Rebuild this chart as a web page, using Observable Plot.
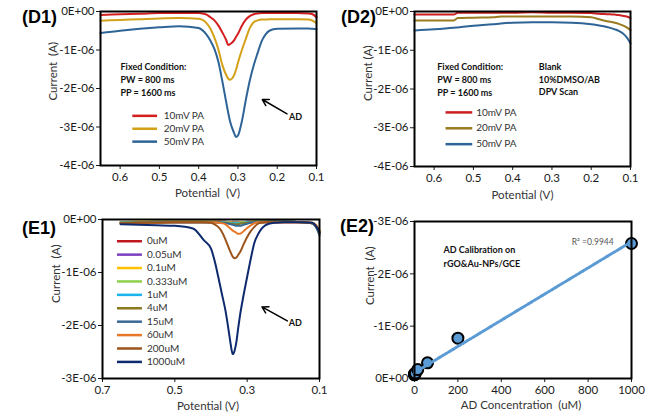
<!DOCTYPE html>
<html><head><meta charset="utf-8">
<script src="https://cdn.jsdelivr.net/npm/d3@7"></script>
<script src="https://cdn.jsdelivr.net/npm/@observablehq/plot@0.6"></script>
<style>
body{margin:0;background:#fff;}
#wrap{position:relative;width:654px;height:414px;overflow:hidden;background:#fff;}
.panel{position:absolute;width:327px;height:207px;}
.panel g[aria-label^="x-axis"], .panel g[aria-label^="y-axis"]{font-size:11.5px;}
.panel g[aria-label="linear-regression"] path{stroke-dasharray:2 2;}
.tag{position:absolute;font-family:"Liberation Sans",Arial,sans-serif;font-weight:bold;font-size:18px;line-height:1;color:#000;}
</style></head><body><div id="wrap"></div>
<script>
// ---------- D1 : DPV at different pulse amplitudes (current in units of 1E-06 A) ----------
const d1Potential = [0.65,0.6,0.55,0.5,0.45,0.4,0.39,0.38,0.37,0.36,0.35,0.34,0.33,0.325,0.32,0.31,0.305,0.3,0.29,0.28,0.27,0.26,0.25,0.24,0.23,0.22,0.2,0.15,0.12,0.11,0.1];
const d1_10mV = [-0.09,-0.07,-0.06,-0.04,-0.04,-0.04,-0.05,-0.08,-0.15,-0.23,-0.36,-0.54,-0.74,-0.87,-0.85,-0.75,-0.66,-0.58,-0.37,-0.21,-0.12,-0.07,-0.05,-0.04,-0.04,-0.04,-0.04,-0.04,-0.05,-0.07,-0.15];
const d1_20mV = [-0.24,-0.22,-0.2,-0.18,-0.17,-0.19,-0.22,-0.3,-0.45,-0.68,-0.98,-1.38,-1.65,-1.74,-1.77,-1.66,-1.52,-1.33,-1.0,-0.71,-0.43,-0.28,-0.23,-0.21,-0.21,-0.2,-0.2,-0.2,-0.21,-0.24,-0.3];
const d1_50mV = [-0.56,-0.5,-0.45,-0.41,-0.38,-0.43,-0.49,-0.6,-0.76,-0.97,-1.3,-1.8,-2.35,-2.62,-2.86,-3.15,-3.26,-3.22,-2.85,-2.3,-1.8,-1.4,-1.08,-0.78,-0.6,-0.5,-0.45,-0.44,-0.44,-0.45,-0.46];
const d1Labels = ["10mV PA","20mV PA","50mV PA"];
const d1Colors = ["#d41f1f","#d4a017","#2f6496"];

// ---------- D2 : blank ----------
const d2Potential = [0.65,0.6,0.55,0.54,0.5,0.45,0.43,0.4,0.35,0.3,0.25,0.2,0.18,0.16,0.14,0.13,0.12,0.11,0.1];
const d2_10mV = [-0.08,-0.08,-0.08,-0.035,-0.035,-0.035,-0.03,-0.03,-0.02,-0.03,-0.03,-0.04,-0.06,-0.07,-0.08,-0.09,-0.11,-0.13,-0.17];
const d2_20mV = [-0.23,-0.23,-0.23,-0.17,-0.16,-0.15,-0.13,-0.13,-0.13,-0.13,-0.13,-0.15,-0.2,-0.25,-0.29,-0.32,-0.36,-0.41,-0.48];
const d2_50mV = [-0.49,-0.46,-0.42,-0.41,-0.37,-0.33,-0.31,-0.29,-0.28,-0.28,-0.29,-0.33,-0.36,-0.4,-0.46,-0.5,-0.56,-0.66,-0.82];
const d2Labels = ["10mV PA","20mV PA","50mV PA"];
const d2Colors = ["#cc1f1f","#9a7b1f","#2f6496"];

// ---------- E1 : DPV at AD concentrations ----------
const e1Potential = [0.65,0.6,0.55,0.5,0.45,0.42,0.4,0.39,0.38,0.37,0.36,0.35,0.345,0.34,0.335,0.33,0.325,0.32,0.31,0.3,0.29,0.28,0.27,0.26,0.25,0.24,0.22,0.2,0.15,0.12,0.11,0.1];
const e1_0uM    = [-0.06,-0.05,-0.05,-0.05,-0.05,-0.05,-0.05,-0.05,-0.05,-0.05,-0.05,-0.05,-0.05,-0.05,-0.05,-0.05,-0.05,-0.05,-0.05,-0.05,-0.05,-0.05,-0.05,-0.05,-0.05,-0.05,-0.05,-0.05,-0.05,-0.07,-0.12,-0.24];
const e1_005uM  = [-0.05,-0.05,-0.04,-0.04,-0.04,-0.04,-0.04,-0.04,-0.04,-0.04,-0.04,-0.05,-0.05,-0.05,-0.05,-0.05,-0.05,-0.05,-0.05,-0.04,-0.04,-0.04,-0.04,-0.04,-0.04,-0.04,-0.04,-0.04,-0.05,-0.07,-0.13,-0.26];
const e1_01uM   = [-0.05,-0.04,-0.04,-0.04,-0.04,-0.04,-0.04,-0.04,-0.04,-0.04,-0.05,-0.05,-0.05,-0.06,-0.06,-0.06,-0.06,-0.05,-0.05,-0.05,-0.04,-0.04,-0.04,-0.04,-0.04,-0.04,-0.04,-0.04,-0.05,-0.07,-0.12,-0.22];
const e1_0333uM = [-0.05,-0.05,-0.04,-0.04,-0.04,-0.04,-0.04,-0.04,-0.05,-0.05,-0.05,-0.06,-0.06,-0.06,-0.06,-0.06,-0.06,-0.06,-0.05,-0.05,-0.05,-0.04,-0.04,-0.04,-0.04,-0.04,-0.04,-0.04,-0.05,-0.07,-0.12,-0.23];
const e1_1uM    = [-0.06,-0.05,-0.05,-0.05,-0.05,-0.05,-0.05,-0.05,-0.05,-0.05,-0.06,-0.06,-0.07,-0.07,-0.07,-0.07,-0.07,-0.07,-0.06,-0.05,-0.05,-0.05,-0.04,-0.04,-0.04,-0.04,-0.04,-0.04,-0.05,-0.07,-0.13,-0.25];
const e1_4uM    = [-0.06,-0.05,-0.05,-0.05,-0.05,-0.05,-0.05,-0.05,-0.05,-0.06,-0.06,-0.07,-0.08,-0.08,-0.09,-0.09,-0.09,-0.08,-0.07,-0.06,-0.05,-0.05,-0.05,-0.04,-0.04,-0.04,-0.04,-0.04,-0.05,-0.07,-0.13,-0.27];
const e1_15uM   = [-0.06,-0.06,-0.05,-0.05,-0.05,-0.05,-0.05,-0.05,-0.05,-0.06,-0.07,-0.08,-0.09,-0.1,-0.11,-0.12,-0.12,-0.12,-0.1,-0.08,-0.06,-0.05,-0.05,-0.05,-0.05,-0.04,-0.04,-0.04,-0.05,-0.07,-0.14,-0.3];
const e1_60uM   = [-0.07,-0.06,-0.06,-0.05,-0.05,-0.05,-0.05,-0.05,-0.06,-0.07,-0.09,-0.15,-0.18,-0.21,-0.23,-0.25,-0.27,-0.27,-0.22,-0.16,-0.11,-0.07,-0.05,-0.05,-0.05,-0.05,-0.05,-0.05,-0.05,-0.06,-0.1,-0.2];
const e1_200uM  = [-0.07,-0.06,-0.06,-0.05,-0.05,-0.05,-0.06,-0.09,-0.14,-0.23,-0.38,-0.55,-0.63,-0.7,-0.73,-0.72,-0.67,-0.62,-0.47,-0.33,-0.22,-0.14,-0.08,-0.06,-0.05,-0.05,-0.05,-0.05,-0.05,-0.06,-0.12,-0.24];
const e1_1000uM = [-0.09,-0.1,-0.11,-0.12,-0.17,-0.39,-0.55,-0.78,-1.08,-1.4,-1.72,-2.15,-2.38,-2.54,-2.48,-2.32,-2.06,-1.82,-1.43,-1.08,-0.74,-0.44,-0.28,-0.17,-0.11,-0.08,-0.06,-0.05,-0.05,-0.06,-0.12,-0.24];
const e1Series = [e1_0uM,e1_005uM,e1_01uM,e1_0333uM,e1_1uM,e1_4uM,e1_15uM,e1_60uM,e1_200uM,e1_1000uM];
const e1Labels = ["0uM","0.05uM","0.1uM","0.333uM","1uM","4uM","15uM","60uM","200uM","1000uM"];
const e1Colors = ["#c0161d","#7b3fbf","#ffc000","#8fcf4a","#19b4ee","#8a7a20","#3a6894","#e8772a","#9b541c","#0e2a6e"];

// ---------- E2 : calibration ----------
const e2Conc    = [0, 0.05, 0.1, 0.333, 1, 4, 15, 60, 200, 1000];
const e2Current = [-0.07, -0.08, -0.08, -0.09, -0.09, -0.1, -0.17, -0.3, -0.77, -2.58];

// ---------- ticks ----------
const dXTicks = [0.6,0.5,0.4,0.3,0.2,0.1];
const dYTicks = [0,-1,-2,-3,-4];
const e1XTicks = [0.7,0.5,0.3,0.1];
const e1YTicks = [0,-1,-2,-3];
const e2XTicks = [0,200,400,600,800,1000];
const e2YTicks = [0,-1,-2,-3];

const yFmt = d => d === 0 ? "0E+00" : `${d}E-06`;
const rows = (xs, ys) => xs.map((x, i) => ({x, y: ys[i]}));
const baseStyle = {fontFamily: "Lato, sans-serif", fontSize: "11.5px", color: "#1a1a1a", background: "transparent", overflow: "visible"};
const txt = (o) => Object.assign({fontFamily: "Lato, sans-serif", fill: "#111", lineAnchor: "middle"}, o);

function legend(labels, colors, x1, x2, xl, y0, step) {
  const data = labels.map((l, i) => ({l, c: colors[i], y: y0 - i * step}));
  return [
    Plot.link(data, {x1: () => x1, x2: () => x2, y1: "y", y2: "y", stroke: d => d.c, strokeWidth: 2.5}),
    Plot.text(data, txt({x: () => xl, y: "y", text: "l", textAnchor: "start", fontSize: 10, fill: "#333"}))
  ];
}

const wrap = document.getElementById("wrap");
function place(node, left, top) {
  const d = document.createElement("div");
  d.className = "panel"; d.style.left = left + "px"; d.style.top = top + "px";
  d.appendChild(node); wrap.appendChild(d);
}
function tag(t, left, top) {
  const d = document.createElement("div");
  d.className = "tag"; d.textContent = t; d.style.left = left + "px"; d.style.top = top + "px";
  wrap.appendChild(d);
}

// ---------- D1 ----------
const d1 = Plot.plot({
  width: 327, height: 207, marginLeft: 100, marginRight: 11, marginTop: 11, marginBottom: 42,
  style: baseStyle,
  x: {domain: [0.65, 0.1], ticks: dXTicks, tickFormat: d3.format(".1f"), tickSize: 4, tickPadding: 3, label: null},
  y: {domain: [-4, 0], ticks: dYTicks, tickFormat: yFmt, tickSize: 4, tickPadding: 2, label: null},
  marks: [
    ...[d1_10mV, d1_20mV, d1_50mV].map((s, i) => Plot.line(rows(d1Potential, s), {x: "x", y: "y", stroke: d1Colors[i], strokeWidth: 2, curve: "monotone-x"})),
    Plot.text(["Fixed Condition:", "PW = 800 ms", "PP = 1600 ms"], txt({x: 0.599, y: (d, i) => -1.455 - i * 0.335, textAnchor: "start", fontWeight: "bold", fontSize: 9})),
    ...legend(d1Labels, d1Colors, 0.569, 0.506, 0.489, -2.71, 0.335),
    Plot.text(["AD"], txt({x: 0.170, y: -2.745, textAnchor: "start", fontWeight: "bold", fontSize: 9})),
    Plot.arrow([{a: 0.175, b: -2.657, c: 0.238, d: -2.286}], {x1: "a", y1: "b", x2: "c", y2: "d", stroke: "black", strokeWidth: 1.5, headLength: 7}),
    Plot.text(["Current  (A)"], txt({frameAnchor: "left", dx: -47, dy: 12, rotate: -90, fontSize: 11.5, fill: "#333"})),
    Plot.text(["Potential  (V)"], txt({frameAnchor: "bottom", dx: -1, dy: 28, fontSize: 11.5, fill: "#333"})),
    Plot.frame({stroke: "black", strokeWidth: 2})
  ]
});
place(d1, 0, 0);

// ---------- D2 ----------
const d2 = Plot.plot({
  width: 327, height: 207, marginLeft: 87, marginRight: 24, marginTop: 11, marginBottom: 41,
  style: baseStyle,
  x: {domain: [0.65, 0.1], ticks: dXTicks, tickFormat: d3.format(".1f"), tickSize: 4, tickPadding: 3, label: null},
  y: {domain: [-4, 0], ticks: dYTicks, tickFormat: yFmt, tickSize: 4, tickPadding: 2, label: null},
  marks: [
    ...[d2_10mV, d2_20mV, d2_50mV].map((s, i) => Plot.line(rows(d2Potential, s), {x: "x", y: "y", stroke: d2Colors[i], strokeWidth: 2, curve: "monotone-x"})),
    Plot.text(["Fixed Condition:", "PW = 800 ms", "PP = 1600 ms"], txt({x: 0.592, y: (d, i) => -1.44 - i * 0.335, textAnchor: "start", fontWeight: "bold", fontSize: 9})),
    Plot.text(["Blank", "10%DMSO/AB", "DPV Scan"], txt({x: 0.3335, y: (d, i) => -1.44 - i * 0.325, textAnchor: "start", fontWeight: "bold", fontSize: 9})),
    ...legend(d2Labels, d2Colors, 0.571, 0.503, 0.493, -2.604, 0.41),
    Plot.text(["Current (A)"], txt({frameAnchor: "left", dx: -46, dy: 12, rotate: -90, fontSize: 11.5, fill: "#333"})),
    Plot.text(["Potential (V)"], txt({frameAnchor: "bottom", dx: 0, dy: 29, fontSize: 11.5, fill: "#333"})),
    Plot.frame({stroke: "black", strokeWidth: 2})
  ]
});
place(d2, 327, 0);

// ---------- E1 ----------
const e1 = Plot.plot({
  width: 327, height: 207, marginLeft: 102, marginRight: 8, marginTop: 12, marginBottom: 36,
  style: baseStyle,
  x: {domain: [0.7, 0.1], ticks: e1XTicks, tickFormat: d3.format(".1f"), tickSize: 4, tickPadding: 3, label: null},
  y: {domain: [-3, 0], ticks: e1YTicks, tickFormat: yFmt, tickSize: 4, tickPadding: 2, label: null},
  marks: [
    ...e1Series.map((s, i) => Plot.line(rows(e1Potential, s), {x: "x", y: "y", stroke: e1Colors[i], strokeWidth: 2, curve: "monotone-x"})),
    ...legend(e1Labels, e1Colors, 0.660, 0.591, 0.577, -0.41, 0.253),
    Plot.text(["AD"], txt({x: 0.185, y: -1.951, textAnchor: "start", fontWeight: "bold", fontSize: 9})),
    Plot.arrow([{a: 0.189, b: -1.913, c: 0.259, d: -1.649}], {x1: "a", y1: "b", x2: "c", y2: "d", stroke: "black", strokeWidth: 1.5, headLength: 7}),
    Plot.text(["Current  (A)"], txt({frameAnchor: "left", dx: -46, dy: 4, rotate: -90, fontSize: 11.5, fill: "#333"})),
    Plot.text(["Potential (V)"], txt({frameAnchor: "bottom", dx: -3, dy: 28, fontSize: 11.5, fill: "#333"})),
    Plot.frame({stroke: "black", strokeWidth: 2})
  ]
});
place(e1, 0, 207);

// ---------- E2 ----------
const e2Data = rows(e2Conc, e2Current);
const e2 = Plot.plot({
  width: 327, height: 207, marginLeft: 87, marginRight: 23, marginTop: 14, marginBottom: 36,
  style: baseStyle,
  x: {domain: [0, 1000], ticks: e2XTicks, tickFormat: d => String(d), tickSize: 4, tickPadding: 3, label: null},
  y: {domain: [0, -3], ticks: e2YTicks, tickFormat: yFmt, tickSize: 4, tickPadding: 2, label: null},
  marks: [
    Plot.dot(e2Data, {x: "x", y: "y", r: 5.5, fill: "#5b9bd5", stroke: "black", strokeWidth: 2}),
    Plot.linearRegressionY(e2Data, {x: "x", y: "y", ci: 0, stroke: "#5b9bd5", strokeWidth: 3, strokeDasharray: "2,2"}),
    Plot.text(["AD Calibration on", "rGO&Au-NPs/GCE"], txt({x: 134, y: (d, i) => -2.46 + i * 0.27, textAnchor: "start", fontWeight: "bold", fontSize: 9})),
    Plot.text(["R\u00B2 =0.9944"], txt({x: 918, y: -2.61, textAnchor: "end", fontSize: 8.5, fill: "#555"})),
    Plot.text(["Current  (A)"], txt({frameAnchor: "left", dx: -44, dy: 5, rotate: -90, fontSize: 11.5, fill: "#333"})),
    Plot.text(["AD Concentration  (uM)"], txt({frameAnchor: "bottom", dx: -2, dy: 27, fontSize: 11.5, fill: "#333"})),
    Plot.frame({stroke: "black", strokeWidth: 2})
  ]
});
place(e2, 327, 207);

tag("(D1)", 22, 8);
tag("(D2)", 341, 8);
tag("(E1)", 22, 219);
tag("(E2)", 340, 217);
</script></body></html>
